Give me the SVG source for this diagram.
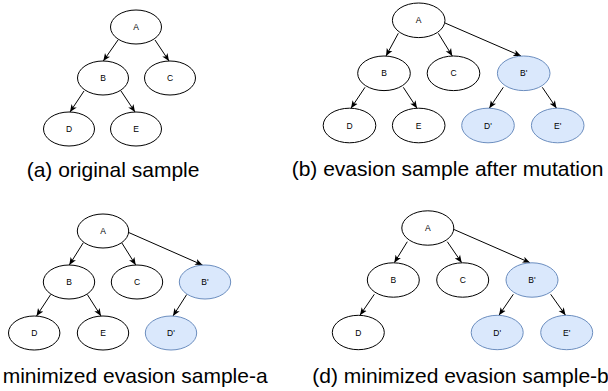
<svg xmlns="http://www.w3.org/2000/svg" width="608" height="391" viewBox="0 0 608 391">
<defs>
<marker id="arr" viewBox="0 0 10 10" refX="10" refY="5" markerWidth="7.5" markerHeight="7.5" markerUnits="userSpaceOnUse" orient="auto">
<path d="M0,0.8 L10,5 L0,9.2 L2.6,5 Z" fill="#000"/>
</marker>
</defs>
<style>
.n{fill:#fff;stroke:#000;stroke-width:1}
.m{fill:#dae8fc;stroke:#6c8ebf;stroke-width:1}
.t{font-family:"Liberation Sans",Arial,sans-serif;font-size:8.5px;fill:#000;text-anchor:middle;dominant-baseline:central}
.cap{font-family:"Liberation Sans",Arial,sans-serif;font-size:21px;fill:#000}
.e{stroke:#000;stroke-width:1;fill:none;marker-end:url(#arr)}
</style>
<rect width="608" height="391" fill="#fff"/>

<!-- Panel (a) -->
<g id="a-edges">
<line class="e" x1="118" y1="40" x2="103.3" y2="61"/>
<line class="e" x1="155" y1="40" x2="169" y2="61"/>
<line class="e" x1="84" y1="91" x2="70" y2="112"/>
<line class="e" x1="121" y1="91" x2="135" y2="112"/>
</g>
<g id="a-A"><ellipse class="n" cx="136" cy="27" rx="25.5" ry="17"/><text class="t" x="136" y="27">A</text></g>
<g id="a-B"><ellipse class="n" cx="103" cy="78" rx="25.5" ry="17"/><text class="t" x="103" y="78">B</text></g>
<g id="a-C"><ellipse class="n" cx="170" cy="78" rx="25.5" ry="17"/><text class="t" x="170" y="78">C</text></g>
<g id="a-D"><ellipse class="n" cx="69" cy="129" rx="25.5" ry="17"/><text class="t" x="69" y="129">D</text></g>
<g id="a-E"><ellipse class="n" cx="136" cy="129" rx="25.5" ry="17"/><text class="t" x="136" y="129">E</text></g>
<text class="cap" x="26.7" y="176.5">(a) original sample</text>

<!-- Panel (b) -->
<g id="b-edges">
<line class="e" x1="398.3" y1="33.3" x2="386" y2="56"/>
<line class="e" x1="438.3" y1="33.3" x2="452.3" y2="56"/>
<line class="e" x1="445" y1="23" x2="521" y2="56"/>
<line class="e" x1="365" y1="87.3" x2="351" y2="108.2"/>
<line class="e" x1="403.3" y1="87.3" x2="417" y2="108.2"/>
<line class="e" x1="503.3" y1="87.3" x2="489.3" y2="108.2"/>
<line class="e" x1="542.3" y1="87.3" x2="556.5" y2="108.2"/>
</g>
<g id="b-A"><ellipse class="n" cx="418.7" cy="20.3" rx="26.3" ry="17.3"/><text class="t" x="418.7" y="20.3">A</text></g>
<g id="b-B"><ellipse class="n" cx="384" cy="73.3" rx="26.3" ry="17.3"/><text class="t" x="384" y="73.3">B</text></g>
<g id="b-C"><ellipse class="n" cx="453.5" cy="73.3" rx="26.3" ry="17.3"/><text class="t" x="453.5" y="73.3">C</text></g>
<g id="b-B2"><ellipse class="m" cx="523.7" cy="73.3" rx="26.3" ry="17.3"/><text class="t" x="523.7" y="73.3">B'</text></g>
<g id="b-D"><ellipse class="n" cx="349.5" cy="125.5" rx="26.3" ry="17.3"/><text class="t" x="349.5" y="125.5">D</text></g>
<g id="b-E"><ellipse class="n" cx="418.7" cy="125.5" rx="26.3" ry="17.3"/><text class="t" x="418.7" y="125.5">E</text></g>
<g id="b-D2"><ellipse class="m" cx="488" cy="125.5" rx="26.3" ry="17.3"/><text class="t" x="488" y="125.5">D'</text></g>
<g id="b-E2"><ellipse class="m" cx="557.7" cy="125.5" rx="26.3" ry="17.3"/><text class="t" x="557.7" y="125.5">E'</text></g>
<text class="cap" x="291.7" y="176">(b) evasion sample after mutation</text>

<!-- Panel (c) -->
<g id="c-edges">
<line class="e" x1="83.3" y1="242.7" x2="69.3" y2="265"/>
<line class="e" x1="121.7" y1="242.7" x2="135.7" y2="265"/>
<line class="e" x1="128.7" y1="232.5" x2="202.5" y2="265"/>
<line class="e" x1="50.7" y1="294.5" x2="36.5" y2="316"/>
<line class="e" x1="87.3" y1="294.5" x2="101" y2="316"/>
<line class="e" x1="186.7" y1="294.5" x2="173" y2="316"/>
</g>
<g id="c-A"><ellipse class="n" cx="103" cy="231" rx="25.7" ry="17"/><text class="t" x="103" y="231">A</text></g>
<g id="c-B"><ellipse class="n" cx="69" cy="282" rx="25.7" ry="17"/><text class="t" x="69" y="282">B</text></g>
<g id="c-C"><ellipse class="n" cx="137" cy="282" rx="25.7" ry="17"/><text class="t" x="137" y="282">C</text></g>
<g id="c-B2"><ellipse class="m" cx="205" cy="282" rx="25.7" ry="17"/><text class="t" x="205" y="282">B'</text></g>
<g id="c-D"><ellipse class="n" cx="34.2" cy="333" rx="25.7" ry="17"/><text class="t" x="34.2" y="333">D</text></g>
<g id="c-E"><ellipse class="n" cx="103" cy="333" rx="25.7" ry="17"/><text class="t" x="103" y="333">E</text></g>
<g id="c-D2"><ellipse class="m" cx="171" cy="333" rx="25.7" ry="17"/><text class="t" x="171" y="333">D'</text></g>
<text class="cap" x="2.7" y="382.5">minimized evasion sample-a</text>

<!-- Panel (d) -->
<g id="d-edges">
<line class="e" x1="407.3" y1="241.7" x2="394.3" y2="262.7"/>
<line class="e" x1="447.3" y1="241.7" x2="461.7" y2="262.7"/>
<line class="e" x1="454" y1="229.5" x2="530" y2="262.7"/>
<line class="e" x1="374.3" y1="294.3" x2="360" y2="315.2"/>
<line class="e" x1="513.3" y1="294.3" x2="499" y2="315.2"/>
<line class="e" x1="550.7" y1="294.3" x2="565.5" y2="315.2"/>
</g>
<g id="d-A"><ellipse class="n" cx="427.8" cy="228" rx="26" ry="17.2"/><text class="t" x="427.8" y="228">A</text></g>
<g id="d-B"><ellipse class="n" cx="393.3" cy="280" rx="26" ry="17.2"/><text class="t" x="393.3" y="280">B</text></g>
<g id="d-C"><ellipse class="n" cx="462.7" cy="280" rx="26" ry="17.2"/><text class="t" x="462.7" y="280">C</text></g>
<g id="d-B2"><ellipse class="m" cx="532" cy="280" rx="26" ry="17.2"/><text class="t" x="532" y="280">B'</text></g>
<g id="d-D"><ellipse class="n" cx="358.3" cy="332.5" rx="26" ry="17.2"/><text class="t" x="358.3" y="332.5">D</text></g>
<g id="d-D2"><ellipse class="m" cx="497.2" cy="332.5" rx="26" ry="17.2"/><text class="t" x="497.2" y="332.5">D'</text></g>
<g id="d-E2"><ellipse class="m" cx="566.7" cy="332.5" rx="26" ry="17.2"/><text class="t" x="566.7" y="332.5">E'</text></g>
<text class="cap" x="312.3" y="382.5">(d) minimized evasion sample-b</text>
</svg>
